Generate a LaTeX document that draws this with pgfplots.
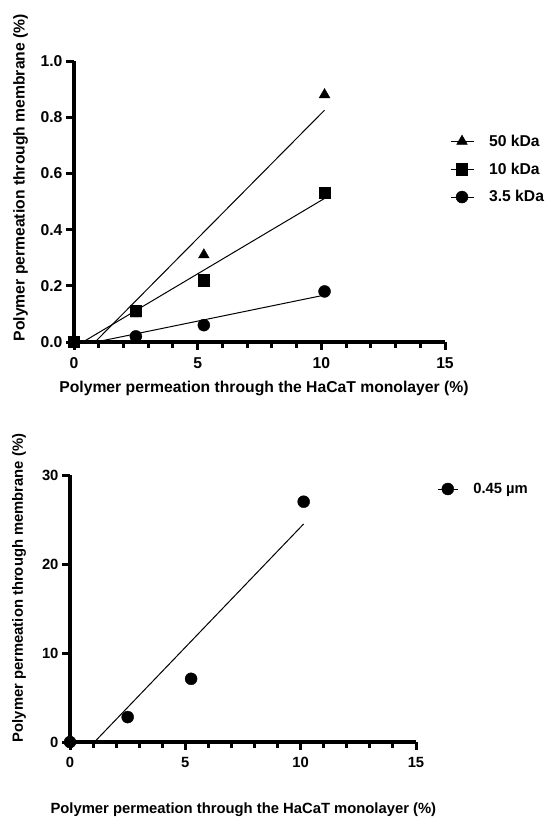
\documentclass[border=0pt]{standalone}
\usepackage{fontspec}
\setmainfont{Liberation Sans}
\usepackage{pgfplots}
\pgfplotsset{compat=1.18}
\newcommand{\lfa}{\fontsize{15.7}{18}\selectfont\bfseries}
\newcommand{\lfb}{\fontsize{14.8}{17}\selectfont\bfseries}
\pgfplotsset{
  myaxis/.style={
    scale only axis,
    axis x line*=bottom, axis y line*=left,
    axis line style={line width=3.5pt, black},
    tick style={line width=3pt, black},
    tick align=outside,
    major tick length=8pt, minor tick length=6pt,
    xmin=0, xmax=15, xtick={0,5,10,15}, minor x tick num=4,
    /pgf/number format/assume math mode=true,
    xticklabel style={yshift=-4pt},
    clip=false,
    legend cell align=left,
    legend style={draw=none, fill=none, inner sep=0pt, row sep=11pt, column sep=13pt},
    legend image code/.code={\draw[black, line width=1pt] (0pt,0pt) -- (23pt,0pt); \draw[##1] plot coordinates {(11.5pt,0pt)};},
  },
  fitline/.style={black, line width=1pt, no marks, forget plot},
}
\begin{document}
\begin{tikzpicture}
\useasboundingbox (0pt,0pt) rectangle (550pt,-831pt);
\begin{axis}[myaxis,
  at={(74pt,-342pt)}, anchor=south west,
  width=371pt, height=281pt,
  ymin=0, ymax=1.0, ytick={0,0.2,0.4,0.6,0.8,1.0},
  tick label style={font=\lfa},
  yticklabel style={/pgf/number format/.cd, fixed, fixed zerofill, precision=1},
  xlabel={Polymer permeation through the HaCaT monolayer (\%)},
  ylabel={Polymer permeation through membrane (\%)},
  every axis x label/.style={at={(axis description cs:0.512,-0.164)}, anchor=center, font=\lfa},
  every axis y label/.style={at={(axis description cs:-0.144,0.585)}, anchor=center, rotate=90, font=\lfa},
  legend style={at={(axis description cs:1.013,0.745)}, anchor=north west, font=\lfa},
]
\addplot[fitline] coordinates {(0.85,0) (10.13,0.825)};
\addplot[fitline] coordinates {(0.36,0) (10.13,0.511)};
\addplot[fitline] coordinates {(0.89,0) (10.13,0.167)};
\addplot[only marks, mark=triangle*, mark size=6.2pt, black] coordinates {(0,0) (2.5,0.10) (5.25,0.31) (10.13,0.88)};
\addlegendentry{50 kDa}
\addplot[only marks, mark=square*, mark size=5.6pt, black] coordinates {(0,0) (2.5,0.11) (5.25,0.22) (10.13,0.53)};
\addlegendentry{10 kDa}
\addplot[only marks, mark=*, mark size=6pt, black] coordinates {(0,0) (2.5,0.02) (5.25,0.06) (10.13,0.18)};
\addlegendentry{3.5 kDa}
\end{axis}
\begin{axis}[myaxis,
  at={(70pt,-742pt)}, anchor=south west,
  width=346pt, height=267pt,
  ymin=0, ymax=30, ytick={0,10,20,30},
  tick label style={font=\lfb},
  xlabel={Polymer permeation through the HaCaT monolayer (\%)},
  ylabel={Polymer permeation through membrane (\%)},
  every axis x label/.style={at={(axis description cs:0.501,-0.255)}, anchor=center, font=\lfb},
  every axis y label/.style={at={(axis description cs:-0.147,0.577)}, anchor=center, rotate=90, font=\lfb},
  legend style={at={(axis description cs:1.061,0.978)}, anchor=north west, font=\lfb},
  legend image code/.code={\draw[black, line width=1pt] (0pt,0pt) -- (20pt,0pt); \draw[#1] plot coordinates {(10pt,0pt)};},
]
\addplot[fitline] coordinates {(1.06,0) (10.13,24.5)};
\addplot[only marks, mark=*, mark size=6pt, black] coordinates {(0,0) (2.5,2.8) (5.25,7.1) (10.13,27.0)};
\addlegendentry{0.45 µm}
\end{axis}
\end{tikzpicture}
\end{document}
